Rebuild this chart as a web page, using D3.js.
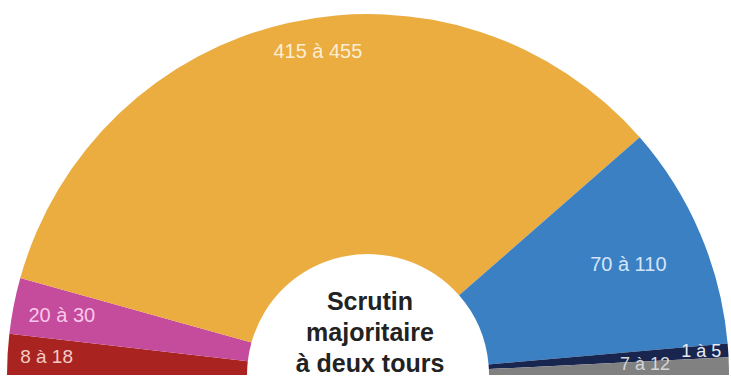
<!DOCTYPE html>
<html>
<head>
<meta charset="utf-8">
<script src="https://cdn.jsdelivr.net/npm/d3@7"></script>
<style>
  html, body { margin: 0; padding: 0; background: #fff; }
  svg { display: block; }
</style>
</head>
<body>
<svg width="731" height="376"></svg>
<script>
// Data (left to right around the hemicycle)
var parties = ['Extrême gauche', 'Gauche', 'La République en marche', 'Les Républicains', 'Front national', 'Autres'];
var seatsLow = [8, 20, 415, 70, 1, 7];
var seatsHigh = [18, 30, 455, 110, 5, 12];
var seatsShown = [21, 29, 395, 116, 7, 9]; // share of the arc
var colors = ['#a92320', '#c54b9c', '#ebac40', '#3b80c3', '#18254f', '#818181'];
var labelColors = ['#f3cbc4', '#f8c8ea', '#fdeed4', '#d4e5f8', '#e6ebf5', '#d6d6d6'];
var titleLines = ['Scrutin', 'majoritaire', 'à deux tours'];

// layout
var svg = d3.select('svg');
var cx = 368, cy = 375;
var outerR = 361, innerR = 121;
var labelR = [322, 312, 328, 283, 334, 277]; // distance of each label from centre
var labelTurn = [0, 0, 4, 0, 0, 0];          // small angle nudge, degrees
var labelDy = [0, 0, 0, 0, -1, -4];
var labelSize = [19, 20, 20, 20, 18, 18];

var data = parties.map(function(p, i) {
  return {name: p, low: seatsLow[i], high: seatsHigh[i], value: seatsShown[i], i: i};
});

var pie = d3.pie()
  .sort(null)
  .value(d => d.value)
  .startAngle(-Math.PI / 2)
  .endAngle(Math.PI / 2);

var arc = d3.arc().innerRadius(innerR).outerRadius(outerR);

var g = svg.append('g').attr('transform', 'translate(' + cx + ',' + cy + ')');

var slices = pie(data);

g.selectAll('.slice')
  .data(slices)
  .enter()
  .append('path')
  .classed('slice', true)
  .attr('d', arc)
  .style('fill', d => colors[d.data.i]);

// labels sit near each slice's middle angle
function midAngle(d) {
  return (d.startAngle + d.endAngle) / 2 + labelTurn[d.data.i] * Math.PI / 180;
}

g.selectAll('.lbl')
  .data(slices)
  .enter()
  .append('text')
  .classed('lbl', true)
  .attr('x', d => labelR[d.data.i] * Math.sin(midAngle(d)))
  .attr('y', d => -labelR[d.data.i] * Math.cos(midAngle(d)) + labelDy[d.data.i])
  .attr('text-anchor', 'middle')
  .attr('dominant-baseline', 'central')
  .style('font-family', '"Liberation Sans", Arial, sans-serif')
  .style('font-size', d => labelSize[d.data.i] + 'px')
  .style('fill', d => labelColors[d.data.i])
  .text(d => d.data.low + ' à ' + d.data.high);

// centre title
g.selectAll('.title')
  .data(titleLines)
  .enter()
  .append('text')
  .classed('title', true)
  .attr('x', 2)
  .attr('y', (d, i) => -65 + i * 31)
  .attr('text-anchor', 'middle')
  .style('font-family', '"Liberation Sans", Arial, sans-serif')
  .style('font-weight', 'bold')
  .style('font-size', '25px')
  .style('fill', '#222')
  .text(d => d);
</script>
</body>
</html>
